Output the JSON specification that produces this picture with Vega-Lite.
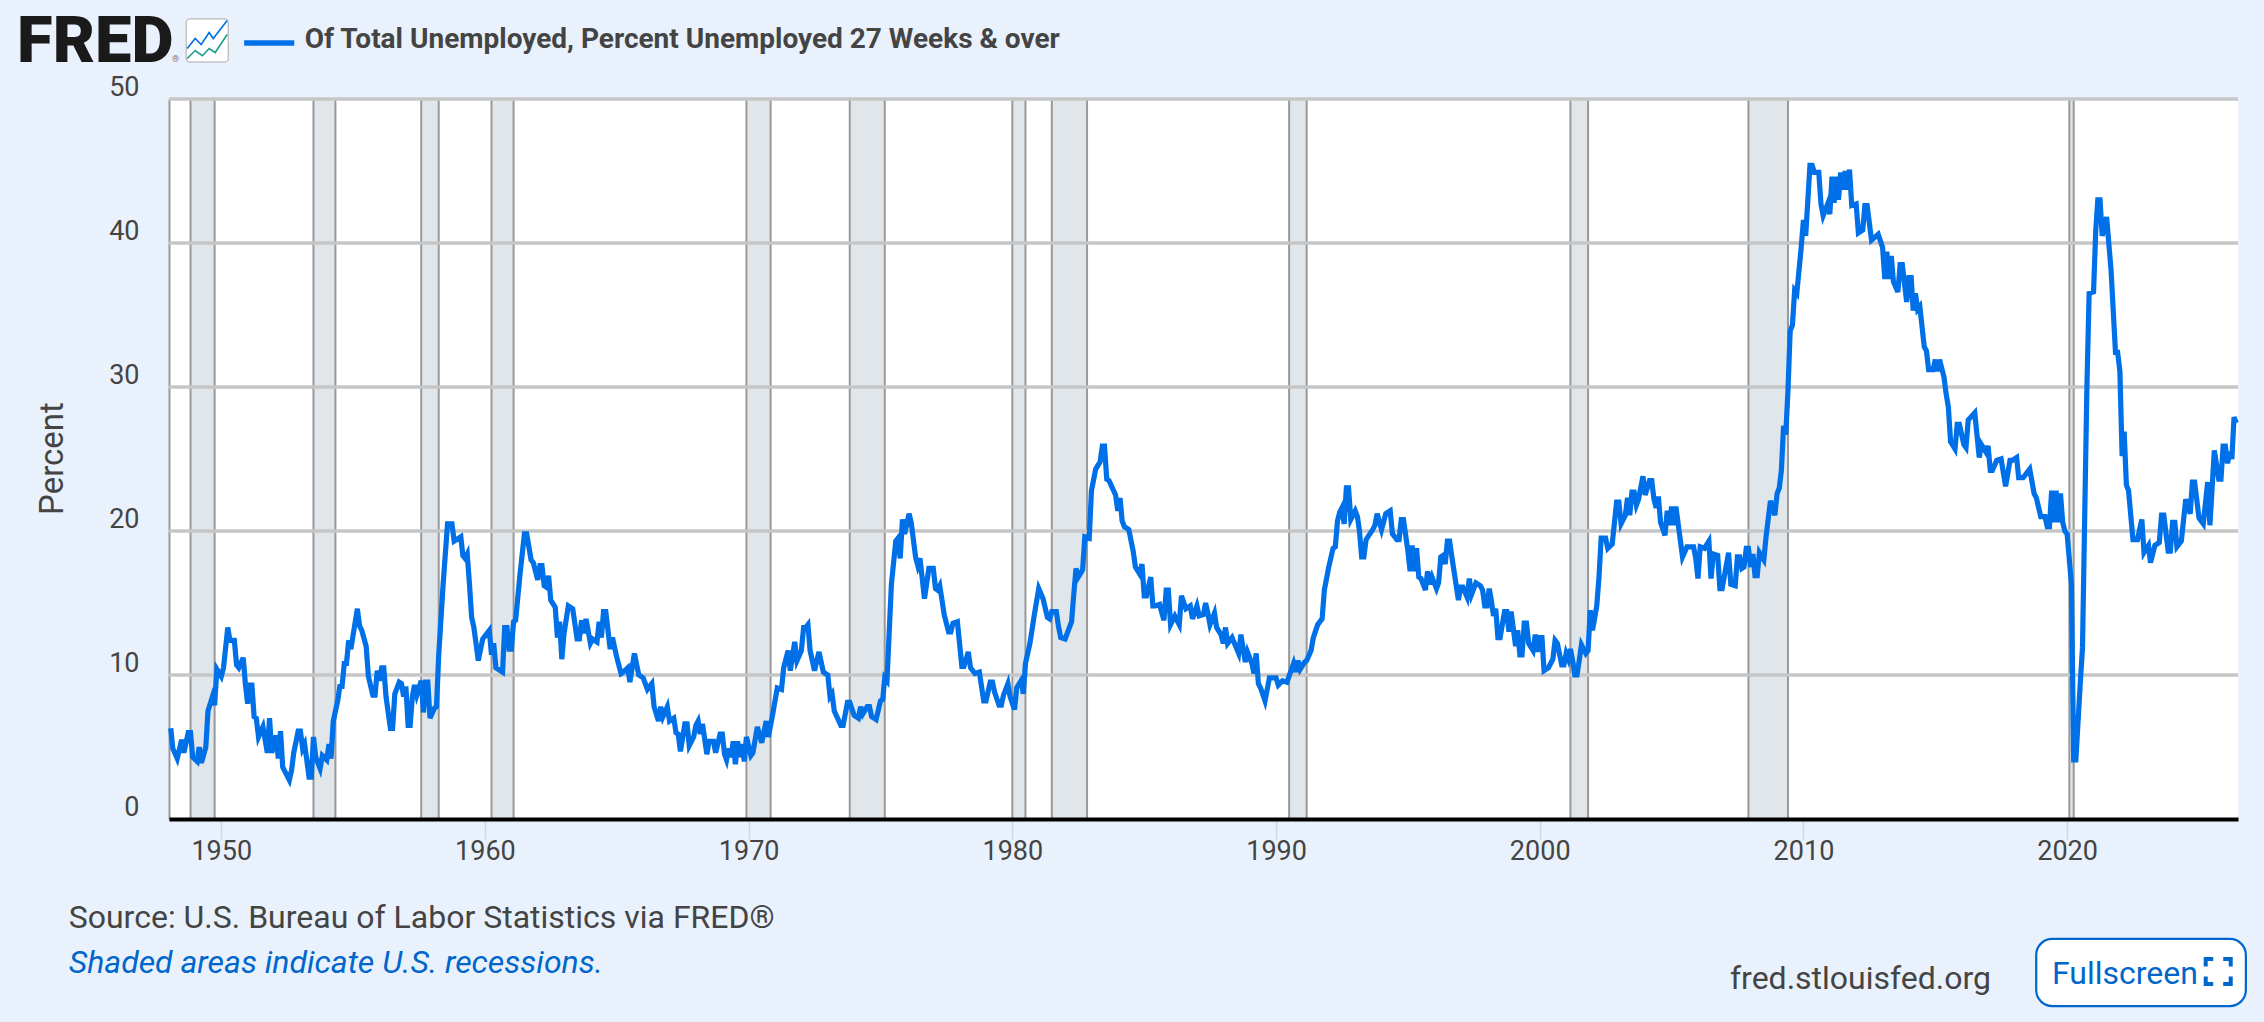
{"$schema":"https://vega.github.io/schema/vega-lite/v6.json","width":2069,"height":720,"autosize":{"type":"none"},"padding":{"left":169,"top":99,"right":26,"bottom":203},"background":"#e9f2fc","view":{"fill":"#ffffff","stroke":null},"config":{"font":"Roboto"},
"datasets":{"series":[
{"d":"1948-02-01","v":6.3},{"d":"1948-03-01","v":4.9},{"d":"1948-05-01","v":4.2},{"d":"1948-07-01","v":5.5},{"d":"1948-08-01","v":4.6},{"d":"1948-10-01","v":6.0},{"d":"1948-11-01","v":6.0},{"d":"1948-12-01","v":4.3},{"d":"1949-02-01","v":4.0},{"d":"1949-03-01","v":5.0},{"d":"1949-04-01","v":3.9},{"d":"1949-06-01","v":5.0},{"d":"1949-07-01","v":7.5},{"d":"1949-09-01","v":8.5},{"d":"1949-10-01","v":7.9},{"d":"1949-11-01","v":10.4},{"d":"1950-01-01","v":9.9},{"d":"1950-02-01","v":10.5},{"d":"1950-04-01","v":13.3},{"d":"1950-05-01","v":12.4},{"d":"1950-07-01","v":12.4},{"d":"1950-08-01","v":10.7},{"d":"1950-09-01","v":10.5},{"d":"1950-11-01","v":11.2},{"d":"1950-12-01","v":9.4},{"d":"1951-01-01","v":8.0},{"d":"1951-02-01","v":9.3},{"d":"1951-03-01","v":9.3},{"d":"1951-04-01","v":7.1},{"d":"1951-05-01","v":7.0},{"d":"1951-06-01","v":5.7},{"d":"1951-08-01","v":6.4},{"d":"1951-10-01","v":4.6},{"d":"1951-11-01","v":7.0},{"d":"1951-12-01","v":4.6},{"d":"1952-02-01","v":5.8},{"d":"1952-03-01","v":4.2},{"d":"1952-04-01","v":6.1},{"d":"1952-05-01","v":3.6},{"d":"1952-08-01","v":2.7},{"d":"1952-09-01","v":3.4},{"d":"1952-10-01","v":4.6},{"d":"1952-12-01","v":6.1},{"d":"1953-01-01","v":6.1},{"d":"1953-02-01","v":4.9},{"d":"1953-03-01","v":5.2},{"d":"1953-05-01","v":2.9},{"d":"1953-06-01","v":2.9},{"d":"1953-07-01","v":5.7},{"d":"1953-08-01","v":4.3},{"d":"1953-10-01","v":3.5},{"d":"1953-11-01","v":4.4},{"d":"1954-01-01","v":4.1},{"d":"1954-02-01","v":5.2},{"d":"1954-03-01","v":4.2},{"d":"1954-04-01","v":6.8},{"d":"1954-06-01","v":8.2},{"d":"1954-07-01","v":9.2},{"d":"1954-08-01","v":9.2},{"d":"1954-09-01","v":10.8},{"d":"1954-10-01","v":10.8},{"d":"1954-11-01","v":12.4},{"d":"1954-12-01","v":11.8},{"d":"1955-03-01","v":14.6},{"d":"1955-04-01","v":13.4},{"d":"1955-05-01","v":13.1},{"d":"1955-07-01","v":12.0},{"d":"1955-08-01","v":9.9},{"d":"1955-10-01","v":8.6},{"d":"1955-11-01","v":8.6},{"d":"1955-12-01","v":10.3},{"d":"1956-01-01","v":9.6},{"d":"1956-02-01","v":10.5},{"d":"1956-03-01","v":10.5},{"d":"1956-04-01","v":8.5},{"d":"1956-06-01","v":6.3},{"d":"1956-07-01","v":6.3},{"d":"1956-08-01","v":8.7},{"d":"1956-10-01","v":9.5},{"d":"1956-11-01","v":9.4},{"d":"1956-12-01","v":8.5},{"d":"1957-01-01","v":9.2},{"d":"1957-02-01","v":6.5},{"d":"1957-03-01","v":6.5},{"d":"1957-04-01","v":8.5},{"d":"1957-05-01","v":9.3},{"d":"1957-06-01","v":8.6},{"d":"1957-08-01","v":9.6},{"d":"1957-09-01","v":7.4},{"d":"1957-10-01","v":9.5},{"d":"1957-11-01","v":9.5},{"d":"1957-12-01","v":7.0},{"d":"1958-02-01","v":7.7},{"d":"1958-03-01","v":7.8},{"d":"1958-04-01","v":11.4},{"d":"1958-06-01","v":16.3},{"d":"1958-08-01","v":20.5},{"d":"1958-10-01","v":20.5},{"d":"1958-11-01","v":19.3},{"d":"1959-02-01","v":19.6},{"d":"1959-03-01","v":18.3},{"d":"1959-04-01","v":18.1},{"d":"1959-05-01","v":18.4},{"d":"1959-06-01","v":16.3},{"d":"1959-07-01","v":14.0},{"d":"1959-08-01","v":13.3},{"d":"1959-10-01","v":11.0},{"d":"1959-12-01","v":12.5},{"d":"1960-03-01","v":13.1},{"d":"1960-04-01","v":11.4},{"d":"1960-05-01","v":12.2},{"d":"1960-06-01","v":10.5},{"d":"1960-09-01","v":10.2},{"d":"1960-10-01","v":13.3},{"d":"1960-11-01","v":13.3},{"d":"1960-12-01","v":11.8},{"d":"1961-01-01","v":11.8},{"d":"1961-02-01","v":13.7},{"d":"1961-03-01","v":13.8},{"d":"1961-05-01","v":17.0},{"d":"1961-07-01","v":19.8},{"d":"1961-08-01","v":19.8},{"d":"1961-10-01","v":18.0},{"d":"1961-11-01","v":17.8},{"d":"1962-01-01","v":16.6},{"d":"1962-02-01","v":17.6},{"d":"1962-03-01","v":17.6},{"d":"1962-04-01","v":16.2},{"d":"1962-05-01","v":16.1},{"d":"1962-06-01","v":16.9},{"d":"1962-07-01","v":15.2},{"d":"1962-09-01","v":14.7},{"d":"1962-10-01","v":12.6},{"d":"1962-11-01","v":13.7},{"d":"1962-12-01","v":11.1},{"d":"1963-01-01","v":12.9},{"d":"1963-03-01","v":14.8},{"d":"1963-05-01","v":14.6},{"d":"1963-07-01","v":12.5},{"d":"1963-08-01","v":12.5},{"d":"1963-09-01","v":13.8},{"d":"1963-10-01","v":12.9},{"d":"1963-11-01","v":13.9},
{"d":"1964-01-01","v":12.2},{"d":"1964-02-01","v":12.5},{"d":"1964-04-01","v":12.3},{"d":"1964-05-01","v":13.7},{"d":"1964-06-01","v":12.6},{"d":"1964-07-01","v":14.4},{"d":"1964-08-01","v":14.4},{"d":"1964-10-01","v":11.8},{"d":"1964-11-01","v":12.6},{"d":"1965-01-01","v":11.2},{"d":"1965-03-01","v":10.1},{"d":"1965-04-01","v":10.2},{"d":"1965-06-01","v":10.5},{"d":"1965-07-01","v":9.5},{"d":"1965-09-01","v":11.5},{"d":"1965-11-01","v":10.0},{"d":"1966-01-01","v":9.8},{"d":"1966-03-01","v":9.0},{"d":"1966-05-01","v":9.4},{"d":"1966-06-01","v":7.8},{"d":"1966-08-01","v":6.8},{"d":"1966-09-01","v":7.8},{"d":"1966-10-01","v":7.1},{"d":"1966-12-01","v":7.8},{"d":"1967-01-01","v":6.8},{"d":"1967-03-01","v":7.0},{"d":"1967-04-01","v":6.0},{"d":"1967-05-01","v":5.9},{"d":"1967-06-01","v":4.7},{"d":"1967-08-01","v":6.6},{"d":"1967-09-01","v":6.6},{"d":"1967-10-01","v":5.1},{"d":"1967-12-01","v":5.7},{"d":"1968-01-01","v":6.5},{"d":"1968-02-01","v":6.8},{"d":"1968-03-01","v":5.9},{"d":"1968-04-01","v":6.6},{"d":"1968-06-01","v":4.5},{"d":"1968-07-01","v":5.4},{"d":"1968-09-01","v":5.4},{"d":"1968-10-01","v":4.6},{"d":"1968-12-01","v":5.9},{"d":"1969-01-01","v":5.9},{"d":"1969-02-01","v":4.5},{"d":"1969-03-01","v":4.1},{"d":"1969-04-01","v":4.9},{"d":"1969-05-01","v":4.3},{"d":"1969-06-01","v":5.4},{"d":"1969-07-01","v":3.8},{"d":"1969-08-01","v":5.4},{"d":"1969-09-01","v":4.3},{"d":"1969-10-01","v":5.2},{"d":"1969-11-01","v":4.0},{"d":"1969-12-01","v":5.7},{"d":"1970-02-01","v":4.4},{"d":"1970-03-01","v":4.6},{"d":"1970-05-01","v":6.4},{"d":"1970-07-01","v":5.3},{"d":"1970-09-01","v":6.8},{"d":"1970-10-01","v":5.7},{"d":"1970-12-01","v":7.3},{"d":"1971-02-01","v":9.1},{"d":"1971-04-01","v":9.0},{"d":"1971-05-01","v":10.5},{"d":"1971-07-01","v":11.7},{"d":"1971-08-01","v":10.3},{"d":"1971-10-01","v":12.3},{"d":"1971-11-01","v":11.0},{"d":"1972-01-01","v":11.7},{"d":"1972-02-01","v":13.3},{"d":"1972-03-01","v":13.3},{"d":"1972-04-01","v":13.5},{"d":"1972-05-01","v":11.7},{"d":"1972-07-01","v":10.3},{"d":"1972-09-01","v":11.6},{"d":"1972-11-01","v":10.2},{"d":"1973-01-01","v":10.0},{"d":"1973-02-01","v":8.5},{"d":"1973-03-01","v":8.7},{"d":"1973-04-01","v":7.5},{"d":"1973-07-01","v":6.5},{"d":"1973-08-01","v":6.5},{"d":"1973-10-01","v":8.1},{"d":"1973-11-01","v":8.1},{"d":"1974-01-01","v":7.2},{"d":"1974-03-01","v":7.0},{"d":"1974-04-01","v":7.8},{"d":"1974-05-01","v":7.3},{"d":"1974-07-01","v":7.8},{"d":"1974-08-01","v":7.8},{"d":"1974-09-01","v":7.1},{"d":"1974-11-01","v":6.9},{"d":"1975-01-01","v":8.2},{"d":"1975-02-01","v":8.3},{"d":"1975-03-01","v":9.8},{"d":"1975-04-01","v":9.6},{"d":"1975-05-01","v":12.9},{"d":"1975-06-01","v":16.3},{"d":"1975-08-01","v":19.3},{"d":"1975-09-01","v":19.5},{"d":"1975-10-01","v":18.1},{"d":"1975-11-01","v":20.8},{"d":"1975-12-01","v":19.8},{"d":"1976-02-01","v":21.2},{"d":"1976-03-01","v":20.6},{"d":"1976-05-01","v":18.2},{"d":"1976-06-01","v":17.6},{"d":"1976-07-01","v":18.1},{"d":"1976-08-01","v":16.7},{"d":"1976-09-01","v":15.3},{"d":"1976-11-01","v":17.4},{"d":"1977-01-01","v":17.4},{"d":"1977-02-01","v":16.0},{"d":"1977-03-01","v":15.9},{"d":"1977-04-01","v":16.2},{"d":"1977-06-01","v":14.2},{"d":"1977-08-01","v":13.0},{"d":"1977-09-01","v":13.0},{"d":"1977-10-01","v":13.6},{"d":"1977-12-01","v":13.7},{"d":"1978-02-01","v":10.6},{"d":"1978-03-01","v":10.6},{"d":"1978-05-01","v":11.6},{"d":"1978-06-01","v":10.5},{"d":"1978-08-01","v":10.1},{"d":"1978-10-01","v":10.2},{"d":"1978-12-01","v":8.2},{"d":"1979-01-01","v":8.2},{"d":"1979-03-01","v":9.5},{"d":"1979-04-01","v":9.5},{"d":"1979-05-01","v":8.8},{"d":"1979-07-01","v":7.9},{"d":"1979-08-01","v":7.9},{"d":"1979-09-01","v":8.6},{"d":"1979-11-01","v":9.4},{"d":"1979-12-01","v":8.5},{"d":"1980-02-01","v":7.6},{"d":"1980-03-01","v":9.1},{"d":"1980-05-01","v":9.6},{"d":"1980-06-01","v":8.7},{"d":"1980-07-01","v":10.8},{"d":"1980-09-01","v":12.2},{"d":"1980-11-01","v":14.2},{"d":"1981-01-01","v":16.0},{"d":"1981-03-01","v":15.3},{"d":"1981-05-01","v":14.0},{"d":"1981-06-01","v":13.9},{"d":"1981-07-01","v":14.4},{"d":"1981-09-01","v":14.4},{"d":"1981-10-01","v":13.4},{"d":"1981-11-01","v":12.6},{"d":"1982-01-01","v":12.5},{"d":"1982-04-01","v":13.7},{"d":"1982-05-01","v":15.6},{"d":"1982-06-01","v":17.4},{"d":"1982-07-01","v":16.8},{"d":"1982-09-01","v":17.3},{"d":"1982-10-01","v":19.6},{"d":"1982-12-01","v":19.5},{"d":"1983-01-01","v":22.8},{"d":"1983-03-01","v":24.3},{"d":"1983-05-01","v":24.8},{"d":"1983-06-01","v":25.9},{"d":"1983-07-01","v":25.9},{"d":"1983-08-01","v":23.6},{"d":"1983-09-01","v":23.5},{"d":"1983-12-01","v":22.5},{"d":"1984-01-01","v":21.4},{"d":"1984-02-01","v":22.3},{"d":"1984-03-01","v":20.7},{"d":"1984-04-01","v":20.3},{"d":"1984-06-01","v":20.1},{"d":"1984-08-01","v":18.6},{"d":"1984-09-01","v":17.5},{"d":"1984-11-01","v":17.0},{"d":"1984-12-01","v":17.7},{"d":"1985-01-01","v":15.5},{"d":"1985-02-01","v":15.5},{"d":"1985-04-01","v":16.8},{"d":"1985-05-01","v":14.8},{"d":"1985-06-01","v":14.8},{"d":"1985-08-01","v":14.9},{"d":"1985-10-01","v":13.8},{"d":"1985-11-01","v":15.9},{"d":"1985-12-01","v":15.9},{"d":"1986-01-01","v":13.5},{"d":"1986-03-01","v":14.1},{"d":"1986-05-01","v":13.5},{"d":"1986-06-01","v":15.5},{"d":"1986-08-01","v":14.6},{"d":"1986-10-01","v":14.8},{"d":"1986-11-01","v":13.9},{"d":"1987-01-01","v":14.8},{"d":"1987-02-01","v":14.1},{"d":"1987-04-01","v":14.2},{"d":"1987-05-01","v":15.0},{"d":"1987-06-01","v":14.3},{"d":"1987-07-01","v":13.5},{"d":"1987-09-01","v":14.3},{"d":"1987-10-01","v":13.3},{"d":"1987-12-01","v":12.8},{"d":"1988-01-01","v":12.2},{"d":"1988-02-01","v":13.3},{"d":"1988-03-01","v":12.2},{"d":"1988-05-01","v":12.6},{"d":"1988-08-01","v":11.5},{"d":"1988-09-01","v":12.8},{"d":"1988-11-01","v":10.9},{"d":"1988-12-01","v":11.6},{"d":"1989-02-01","v":10.8},{"d":"1989-03-01","v":10.1},{"d":"1989-04-01","v":11.5},{"d":"1989-05-01","v":9.4},{"d":"1989-06-01","v":9.1},{"d":"1989-08-01","v":8.2},{"d":"1989-10-01","v":9.8},{"d":"1990-01-01","v":9.8},{"d":"1990-02-01","v":9.3},{"d":"1990-04-01","v":9.6},{"d":"1990-06-01","v":9.5},{"d":"1990-09-01","v":10.8},{"d":"1990-10-01","v":10.2},{"d":"1990-11-01","v":11.0},{"d":"1990-12-01","v":10.4},{"d":"1991-02-01","v":10.9},{"d":"1991-03-01","v":11.0},{"d":"1991-05-01","v":11.7},{"d":"1991-06-01","v":12.6},{"d":"1991-08-01","v":13.5},{"d":"1991-10-01","v":13.9},{"d":"1991-11-01","v":15.9},{"d":"1992-01-01","v":17.5},{"d":"1992-03-01","v":18.8},{"d":"1992-04-01","v":18.9},{"d":"1992-05-01","v":20.7},{"d":"1992-06-01","v":21.3},{"d":"1992-07-01","v":21.6},{"d":"1992-08-01","v":20.5},{"d":"1992-09-01","v":23.0},{"d":"1992-10-01","v":23.0},{"d":"1992-11-01","v":20.8},{"d":"1993-01-01","v":21.4},{"d":"1993-02-01","v":21.0},{"d":"1993-03-01","v":20.0},{"d":"1993-04-01","v":18.2},{"d":"1993-05-01","v":18.2},{"d":"1993-06-01","v":19.4},{"d":"1993-09-01","v":20.1},{"d":"1993-10-01","v":20.4},{"d":"1993-11-01","v":21.2},{"d":"1994-01-01","v":20.1},{"d":"1994-03-01","v":21.2},{"d":"1994-05-01","v":21.4},{"d":"1994-06-01","v":19.8},{"d":"1994-08-01","v":19.4},{"d":"1994-09-01","v":19.4},{"d":"1994-10-01","v":20.8},{"d":"1994-11-01","v":20.8},{"d":"1995-01-01","v":18.6},{"d":"1995-02-01","v":17.2},{"d":"1995-03-01","v":19.0},{"d":"1995-04-01","v":17.2},{"d":"1995-05-01","v":18.8},{"d":"1995-06-01","v":16.8},{"d":"1995-07-01","v":16.7},{"d":"1995-09-01","v":15.9},{"d":"1995-10-01","v":17.2},{"d":"1995-11-01","v":16.3},{"d":"1995-12-01","v":16.8},{"d":"1996-02-01","v":16.0},{"d":"1996-03-01","v":16.4},{"d":"1996-04-01","v":18.2},{"d":"1996-05-01","v":18.3},{"d":"1996-06-01","v":17.7},{"d":"1996-07-01","v":19.3},{"d":"1996-08-01","v":19.3},{"d":"1996-09-01","v":18.2},{"d":"1996-12-01","v":15.2},{"d":"1997-01-01","v":16.1},{"d":"1997-02-01","v":16.1},{"d":"1997-04-01","v":15.4},{"d":"1997-05-01","v":16.7},{"d":"1997-06-01","v":15.6},{"d":"1997-08-01","v":16.4},{"d":"1997-10-01","v":16.2},{"d":"1997-11-01","v":15.9},{"d":"1997-12-01","v":14.8},{"d":"1998-01-01","v":14.8},{"d":"1998-02-01","v":16.0},{"d":"1998-03-01","v":15.2},{"d":"1998-04-01","v":14.1},{"d":"1998-05-01","v":14.6},{"d":"1998-06-01","v":12.6},{"d":"1998-07-01","v":12.6},{"d":"1998-09-01","v":14.4},{"d":"1998-10-01","v":14.4},{"d":"1998-11-01","v":13.0},{"d":"1998-12-01","v":14.4},{"d":"1999-02-01","v":12.0},{"d":"1999-03-01","v":13.1},{"d":"1999-04-01","v":11.4},{"d":"1999-05-01","v":11.4},{"d":"1999-06-01","v":13.6},{"d":"1999-07-01","v":13.6},{"d":"1999-08-01","v":12.2},{"d":"1999-10-01","v":11.7},{"d":"1999-11-01","v":12.8},{"d":"1999-12-01","v":11.6},{"d":"2000-01-01","v":12.6},{"d":"2000-02-01","v":12.6},{"d":"2000-03-01","v":10.3},{"d":"2000-05-01","v":10.5},{"d":"2000-07-01","v":11.1},{"d":"2000-08-01","v":12.4},{"d":"2000-09-01","v":12.2},{"d":"2000-11-01","v":10.7},{"d":"2000-12-01","v":10.7},{"d":"2001-01-01","v":11.5},{"d":"2001-02-01","v":11.1},{"d":"2001-03-01","v":11.8},{"d":"2001-04-01","v":11.0},{"d":"2001-05-01","v":10.0},{"d":"2001-06-01","v":10.0},{"d":"2001-07-01","v":11.0},{"d":"2001-08-01","v":12.1},{"d":"2001-10-01","v":11.5},{"d":"2001-11-01","v":11.7},{"d":"2001-12-01","v":14.5},{"d":"2002-01-01","v":13.1},{"d":"2002-03-01","v":14.8},{"d":"2002-04-01","v":16.8},{"d":"2002-05-01","v":19.5},{"d":"2002-07-01","v":19.5},{"d":"2002-08-01","v":18.8},{"d":"2002-10-01","v":19.1},{"d":"2002-12-01","v":22.0},{"d":"2003-01-01","v":22.0},{"d":"2003-02-01","v":20.5},{"d":"2003-04-01","v":21.1},{"d":"2003-05-01","v":22.3},{"d":"2003-06-01","v":21.1},{"d":"2003-07-01","v":22.7},{"d":"2003-08-01","v":22.7},{"d":"2003-09-01","v":21.8},{"d":"2003-10-01","v":22.2},{"d":"2003-12-01","v":23.8},{"d":"2004-01-01","v":22.5},{"d":"2004-03-01","v":23.5},{"d":"2004-04-01","v":23.5},{"d":"2004-05-01","v":22.2},{"d":"2004-06-01","v":21.6},{"d":"2004-07-01","v":22.4},{"d":"2004-08-01","v":20.6},{"d":"2004-10-01","v":19.7},{"d":"2004-11-01","v":21.4},{"d":"2004-12-01","v":20.4},{"d":"2005-01-01","v":21.7},{"d":"2005-02-01","v":20.4},{"d":"2005-03-01","v":21.7},{"d":"2005-06-01","v":18.2},{"d":"2005-08-01","v":18.9},{"d":"2005-11-01","v":18.9},{"d":"2005-12-01","v":18.1},{"d":"2006-01-01","v":16.7},{"d":"2006-02-01","v":18.9},{"d":"2006-04-01","v":18.8},{"d":"2006-06-01","v":19.3},{"d":"2006-07-01","v":16.7},{"d":"2006-08-01","v":18.4},{"d":"2006-10-01","v":18.3},{"d":"2006-11-01","v":16.0},{"d":"2006-12-01","v":16.0},{"d":"2007-03-01","v":18.5},{"d":"2007-04-01","v":16.3},{"d":"2007-06-01","v":16.2},{"d":"2007-07-01","v":18.2},{"d":"2007-08-01","v":18.2},{"d":"2007-09-01","v":17.4},{"d":"2007-10-01","v":17.5},{"d":"2007-11-01","v":18.8},{"d":"2007-12-01","v":18.8},{"d":"2008-01-01","v":17.5},{"d":"2008-02-01","v":18.4},{"d":"2008-03-01","v":16.9},{"d":"2008-04-01","v":16.9},{"d":"2008-05-01","v":18.5},{"d":"2008-07-01","v":18.0},{"d":"2008-08-01","v":19.6},{"d":"2008-10-01","v":22.1},{"d":"2008-12-01","v":21.1},{"d":"2009-01-01","v":22.6},{"d":"2009-02-01","v":23.0},{"d":"2009-03-01","v":24.2},{"d":"2009-04-01","v":27.3},{"d":"2009-05-01","v":26.7},{"d":"2009-06-01","v":29.8},{"d":"2009-07-01","v":33.9},{"d":"2009-08-01","v":34.3},{"d":"2009-09-01","v":36.7},{"d":"2009-10-01","v":36.5},{"d":"2009-12-01","v":39.7},{"d":"2010-01-01","v":41.6},{"d":"2010-02-01","v":40.5},{"d":"2010-04-01","v":45.4},{"d":"2010-05-01","v":45.4},{"d":"2010-06-01","v":44.9},{"d":"2010-08-01","v":44.9},{"d":"2010-09-01","v":42.7},{"d":"2010-10-01","v":41.9},{"d":"2010-12-01","v":42.7},{"d":"2011-01-01","v":42.0},{"d":"2011-02-01","v":44.6},{"d":"2011-03-01","v":42.8},{"d":"2011-04-01","v":44.6},{"d":"2011-05-01","v":43.0},{"d":"2011-06-01","v":44.9},{"d":"2011-07-01","v":43.7},{"d":"2011-08-01","v":45.0},{"d":"2011-09-01","v":43.7},{"d":"2011-10-01","v":45.1},{"d":"2011-11-01","v":42.6},{"d":"2012-01-01","v":42.7},{"d":"2012-02-01","v":40.7},{"d":"2012-04-01","v":40.9},{"d":"2012-05-01","v":42.6},{"d":"2012-06-01","v":42.6},{"d":"2012-08-01","v":40.2},{"d":"2012-11-01","v":40.6},{"d":"2013-01-01","v":39.7},{"d":"2013-02-01","v":37.5},{"d":"2013-03-01","v":39.4},{"d":"2013-04-01","v":37.5},{"d":"2013-05-01","v":39.1},{"d":"2013-06-01","v":37.3},{"d":"2013-08-01","v":36.6},{"d":"2013-09-01","v":38.5},{"d":"2013-10-01","v":38.5},{"d":"2013-12-01","v":35.9},{"d":"2014-01-01","v":37.6},{"d":"2014-02-01","v":37.6},{"d":"2014-03-01","v":35.3},{"d":"2014-04-01","v":36.5},{"d":"2014-05-01","v":35.4},{"d":"2014-06-01","v":35.6},{"d":"2014-08-01","v":32.8},{"d":"2014-09-01","v":32.5},{"d":"2014-10-01","v":31.2},{"d":"2014-12-01","v":31.2},{"d":"2015-01-01","v":31.9},{"d":"2015-02-01","v":31.1},{"d":"2015-03-01","v":31.9},{"d":"2015-05-01","v":30.7},{"d":"2015-06-01","v":29.5},{"d":"2015-07-01","v":28.6},{"d":"2015-08-01","v":26.2},{"d":"2015-10-01","v":25.7},{"d":"2015-11-01","v":27.4},{"d":"2015-12-01","v":27.4},{"d":"2016-02-01","v":26.0},{"d":"2016-03-01","v":25.8},{"d":"2016-04-01","v":27.7},{"d":"2016-07-01","v":28.2},{"d":"2016-09-01","v":25.1},{"d":"2016-10-01","v":26.0},{"d":"2016-12-01","v":25.5},{"d":"2017-01-01","v":25.9},{"d":"2017-02-01","v":24.2},{"d":"2017-03-01","v":24.2},{"d":"2017-05-01","v":24.9},{"d":"2017-07-01","v":25.0},{"d":"2017-09-01","v":23.1},{"d":"2017-11-01","v":24.9},{"d":"2017-12-01","v":24.9},{"d":"2018-02-01","v":25.1},{"d":"2018-03-01","v":23.7},{"d":"2018-05-01","v":23.7},{"d":"2018-08-01","v":24.3},{"d":"2018-10-01","v":22.6},{"d":"2018-11-01","v":22.3},{"d":"2019-01-01","v":21.0},{"d":"2019-03-01","v":21.0},{"d":"2019-04-01","v":20.3},{"d":"2019-05-01","v":20.3},{"d":"2019-06-01","v":22.8},{"d":"2019-07-01","v":20.6},{"d":"2019-08-01","v":22.8},{"d":"2019-09-01","v":20.6},{"d":"2019-10-01","v":22.6},{"d":"2019-11-01","v":20.6},{"d":"2019-12-01","v":20.0},{"d":"2020-01-01","v":19.8},{"d":"2020-03-01","v":16.3},{"d":"2020-04-01","v":4.1},{"d":"2020-05-01","v":4.1},{"d":"2020-07-01","v":9.4},{"d":"2020-08-01","v":11.9},{"d":"2020-10-01","v":30.0},{"d":"2020-11-01","v":36.5},{"d":"2021-01-01","v":36.6},{"d":"2021-02-01","v":40.9},{"d":"2021-03-01","v":43.0},{"d":"2021-04-01","v":43.0},{"d":"2021-05-01","v":40.5},{"d":"2021-07-01","v":41.8},{"d":"2021-09-01","v":38.1},{"d":"2021-11-01","v":32.4},{"d":"2021-12-01","v":32.4},{"d":"2022-01-01","v":31.1},{"d":"2022-02-01","v":25.2},{"d":"2022-03-01","v":26.9},{"d":"2022-04-01","v":23.2},{"d":"2022-05-01","v":22.8},{"d":"2022-07-01","v":19.4},{"d":"2022-09-01","v":19.4},{"d":"2022-11-01","v":20.8},{"d":"2022-12-01","v":18.5},{"d":"2023-02-01","v":19.0},{"d":"2023-03-01","v":17.8},{"d":"2023-05-01","v":19.0},{"d":"2023-07-01","v":19.2},{"d":"2023-08-01","v":21.1},{"d":"2023-09-01","v":21.1},{"d":"2023-11-01","v":18.6},{"d":"2023-12-01","v":18.6},{"d":"2024-01-01","v":20.6},{"d":"2024-02-01","v":20.6},{"d":"2024-03-01","v":18.9},{"d":"2024-05-01","v":19.3},{"d":"2024-07-01","v":22.2},{"d":"2024-09-01","v":21.2},{"d":"2024-10-01","v":23.4},{"d":"2024-11-01","v":23.4},{"d":"2025-01-01","v":20.9},{"d":"2025-03-01","v":20.5},{"d":"2025-05-01","v":23.4},{"d":"2025-06-01","v":20.4},{"d":"2025-08-01","v":25.6},{"d":"2025-10-01","v":23.6},{"d":"2025-11-01","v":23.6},{"d":"2025-12-01","v":25.9},{"d":"2026-01-01","v":25.9},{"d":"2026-02-01","v":24.7},{"d":"2026-03-01","v":25.5},{"d":"2026-04-01","v":25.0},{"d":"2026-05-01","v":27.9},{"d":"2026-06-01","v":27.5}
],
"recessions":[{"s":"1948-11-01","e":"1949-10-01"},{"s":"1953-07-01","e":"1954-05-01"},{"s":"1957-08-01","e":"1958-04-01"},{"s":"1960-04-01","e":"1961-02-01"},{"s":"1969-12-01","e":"1970-11-01"},{"s":"1973-11-01","e":"1975-03-01"},{"s":"1980-01-01","e":"1980-07-01"},{"s":"1981-07-01","e":"1982-11-01"},{"s":"1990-07-01","e":"1991-03-01"},{"s":"2001-03-01","e":"2001-11-01"},{"s":"2007-12-01","e":"2009-06-01"},{"s":"2020-02-01","e":"2020-04-01"}],
"gridlines":[{"g":10},{"g":20},{"g":30},{"g":40},{"g":50}],"note":[{"n":1}]},
"layer":[
{"data":{"name":"series"},"mark":{"type":"line","opacity":0},"encoding":{"x":{"field":"d","type":"temporal","scale":{"type":"utc","domain":[{"year":1948,"month":1,"date":8,"utc":true},{"year":2026,"month":6,"date":25,"utc":true}]},"axis":{"title":null,"tickCount":{"interval":"year","step":10},"format":"%Y","grid":false,"domainColor":"#000000","domainWidth":4,"tickColor":"#c9d8ec","tickWidth":1.5,"tickSize":20,"labelFontSize":27,"labelColor":"#444444","labelPadding":-1,"labelFlush":false,"labelFont":"Roboto","zindex":1}},"y":{"field":"v","type":"quantitative","scale":{"domain":[0,50],"nice":false},"axis":{"title":"Percent","titleFont":"Roboto","titleFontSize":33,"titleFontWeight":400,"titleColor":"#444444","titleX":-100,"titleY":359,"values":[0,10,20,30,40,50],"format":"d","grid":false,"domainColor":"#999999","domainWidth":2,"ticks":false,"labelFontSize":27,"labelColor":"#444444","labelPadding":30,"labelBaseline":"alphabetic","labelOffset":-4,"labelFont":"Roboto"}}}},
{"data":{"name":"recessions"},"mark":{"type":"rect","fill":"#e1e6ea","stroke":"#999999","strokeWidth":2},"encoding":{"x":{"field":"s","type":"temporal"},"x2":{"field":"e"}}},
{"data":{"name":"gridlines"},"mark":{"type":"rule","color":"#c6c6c6","strokeWidth":3.6},"encoding":{"y":{"field":"g","type":"quantitative"}}},
{"data":{"name":"series"},"mark":{"type":"line","color":"#0070e8","strokeWidth":5.2},"encoding":{"x":{"field":"d","type":"temporal"},"y":{"field":"v","type":"quantitative"}}},
{"data":{"name":"note"},"mark":{"type":"text","align":"left","baseline":"alphabetic","font":"Roboto","fontWeight":900,"fontSize":65,"color":"#1a1a1a"},"encoding":{"x":{"datum":{"year":1942,"month":4,"date":5,"utc":true},"type":"temporal"},"y":{"datum":52.57,"type":"quantitative"},"text":{"value":"FRED"}}},
{"data":{"name":"note"},"mark":{"type":"text","align":"left","baseline":"alphabetic","font":"Roboto","fontSize":9,"color":"#777777"},"encoding":{"x":{"datum":{"year":1948,"month":2,"date":20,"utc":true},"type":"temporal"},"y":{"datum":52.57,"type":"quantitative"},"text":{"value":"®"}}},
{"data":{"name":"note"},"mark":{"type":"rect","fill":"#ffffff","stroke":"#aaaaaa","strokeWidth":1,"cornerRadius":3},"encoding":{"x":{"datum":{"year":1948,"month":9,"date":2,"utc":true},"type":"temporal"},"x2":{"datum":{"year":1950,"month":4,"date":7,"utc":true}},"y":{"datum":55.56,"type":"quantitative"},"y2":{"datum":52.57}}},
{"data":{"name":"note"},"mark":{"type":"point","shape":"M-.5,.2 L-.3,-.05 L-.15,.1 L.05,-.2 L.15,-.05 L.5,-.5","filled":false,"stroke":"#0070e8","strokeWidth":1.6,"size":6400,"opacity":1},"encoding":{"x":{"datum":{"year":1949,"month":6,"date":20,"utc":true},"type":"temporal"},"y":{"datum":54.06,"type":"quantitative"}}},
{"data":{"name":"note"},"mark":{"type":"point","shape":"M-.5,.45 L-.3,.25 L-.12,.38 L.05,.2 L.2,.3 L.5,-.15","filled":false,"stroke":"#1f9e8a","strokeWidth":1.6,"size":6400,"opacity":1},"encoding":{"x":{"datum":{"year":1949,"month":6,"date":20,"utc":true},"type":"temporal"},"y":{"datum":54.06,"type":"quantitative"}}},
{"data":{"name":"note"},"mark":{"type":"rule","color":"#0070e8","strokeWidth":5.6},"encoding":{"x":{"datum":{"year":1950,"month":11,"date":14,"utc":true},"type":"temporal"},"x2":{"datum":{"year":1952,"month":10,"date":8,"utc":true}},"y":{"datum":53.89,"type":"quantitative"}}},
{"data":{"name":"note"},"mark":{"type":"text","align":"left","baseline":"alphabetic","font":"Roboto","fontWeight":700,"fontSize":28,"color":"#444444"},"encoding":{"x":{"datum":{"year":1953,"month":3,"date":3,"utc":true},"type":"temporal"},"y":{"datum":53.54,"type":"quantitative"},"text":{"value":"Of Total Unemployed, Percent Unemployed 27 Weeks & over"}}},
{"data":{"name":"note"},"mark":{"type":"text","align":"left","baseline":"alphabetic","font":"Roboto","fontSize":32,"color":"#444444"},"encoding":{"x":{"datum":{"year":1944,"month":3,"date":20,"utc":true},"type":"temporal"},"y":{"datum":-7.55,"type":"quantitative"},"text":{"value":"Source: U.S. Bureau of Labor Statistics via FRED®"}}},
{"data":{"name":"note"},"mark":{"type":"text","align":"left","baseline":"alphabetic","font":"Roboto","fontStyle":"italic","fontSize":32,"color":"#0066cc"},"encoding":{"x":{"datum":{"year":1944,"month":3,"date":20,"utc":true},"type":"temporal"},"y":{"datum":-10.69,"type":"quantitative"},"text":{"value":"Shaded areas indicate U.S. recessions."}}},
{"data":{"name":"note"},"mark":{"type":"text","align":"left","baseline":"alphabetic","font":"Roboto","fontSize":32,"color":"#444444"},"encoding":{"x":{"datum":{"year":2007,"month":3,"date":20,"utc":true},"type":"temporal"},"y":{"datum":-11.81,"type":"quantitative"},"text":{"value":"fred.stlouisfed.org"}}},
{"data":{"name":"note"},"mark":{"type":"rect","fill":"#ffffff","stroke":"#0066cc","strokeWidth":2.2,"cornerRadius":16},"encoding":{"x":{"datum":{"year":2018,"month":10,"date":30,"utc":true},"type":"temporal"},"x2":{"datum":{"year":2026,"month":10,"date":12,"utc":true}},"y":{"datum":-8.33,"type":"quantitative"},"y2":{"datum":-12.99}}},
{"data":{"name":"note"},"mark":{"type":"text","align":"left","baseline":"alphabetic","font":"Roboto","fontSize":32,"color":"#0066cc"},"encoding":{"x":{"datum":{"year":2019,"month":6,"date":5,"utc":true},"type":"temporal"},"y":{"datum":-11.46,"type":"quantitative"},"text":{"value":"Fullscreen"}}},
{"data":{"name":"note"},"mark":{"type":"point","shape":"M-.5,-.2 V-.5 H-.2 M.2,-.5 H.5 V-.2 M.5,.2 V.5 H.2 M-.2,.5 H-.5 V.2","filled":false,"stroke":"#0066cc","strokeWidth":4,"size":2500,"opacity":1},"encoding":{"x":{"datum":{"year":2025,"month":9,"date":24,"utc":true},"type":"temporal"},"y":{"datum":-10.59,"type":"quantitative"}}}
]}
